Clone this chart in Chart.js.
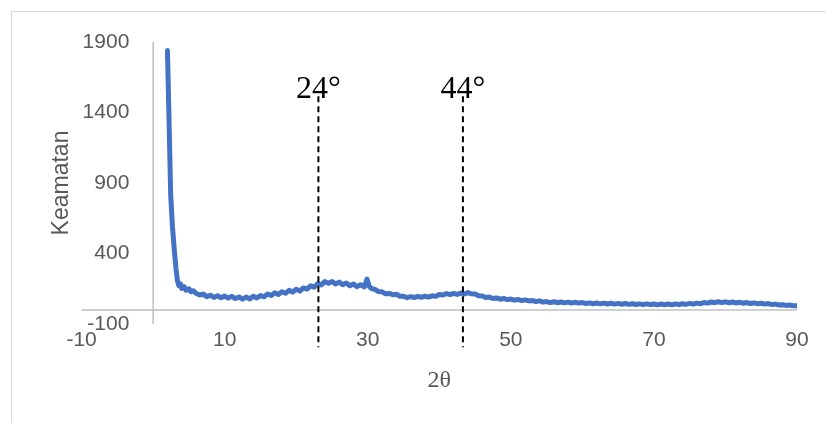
<!DOCTYPE html>
<html>
<head>
<meta charset="utf-8">
<script src="https://cdn.jsdelivr.net/npm/chart.js@4.4.1/dist/chart.umd.min.js"></script>
<style>
    html, body { margin: 0; padding: 0; background: #ffffff; }
    #wrap { position: relative; width: 826px; height: 423px; overflow: hidden; }
    #frame { position: absolute; left: 11px; top: 11px; width: 900px; height: 500px; border: 1.5px solid #d9d9d9; }
    #graphXrd { position: absolute; left: 0; top: 0; }
</style>
</head>
<body>
<div id="wrap">
    <div id="frame"></div>
    <canvas id="graphXrd" width="826" height="423"></canvas>
</div>
<script>
// 2 theta (deg)
const twoTheta = [
    2.0, 2.2, 2.45, 2.7, 3.0, 3.2, 3.4, 3.6, 3.8, 4.0, 4.3, 4.6, 5.0, 5.3, 5.6,
    6.0, 6.5, 7.0, 7.5, 8.0, 8.5, 9.0, 9.5, 10.0, 10.5,
    11.0, 11.5, 12.0, 12.5, 13.0, 13.5, 14.0, 14.5, 15.0, 15.5,
    16.0, 16.5, 17.0, 17.5, 18.0, 18.5, 19.0, 19.5, 20.0, 20.5,
    21.0, 21.5, 22.0, 22.5, 23.0, 23.5, 24.0, 24.5, 25.0, 25.5,
    26.0, 26.5, 27.0, 27.5, 28.0, 28.5, 29.0, 29.5, 29.9, 30.2,
    30.5, 31.0, 31.5, 32.0, 32.5, 33.0, 33.5, 34.0, 34.5, 35.0,
    35.5, 36.0, 36.5, 37.0, 37.5, 38.0, 38.5, 39.0, 39.5, 40.0,
    40.5, 41.0, 41.5, 42.0, 42.5, 43.0, 43.5, 44.0, 44.5, 45.0,
    45.5, 46.0, 46.5, 47.0, 47.5, 48.0, 48.5, 49.0, 49.5, 50.0,
    50.5, 51.0, 51.5, 52.0, 52.5, 53.0, 53.5, 54.0, 54.5, 55.0,
    55.5, 56.0, 56.5, 57.0, 57.5, 58.0, 58.5, 59.0, 59.5, 60.0,
    60.5, 61.0, 61.5, 62.0, 62.5, 63.0, 63.5, 64.0, 64.5, 65.0,
    65.5, 66.0, 66.5, 67.0, 67.5, 68.0, 68.5, 69.0, 69.5, 70.0,
    70.5, 71.0, 71.5, 72.0, 72.5, 73.0, 73.5, 74.0, 74.5, 75.0,
    75.5, 76.0, 76.5, 77.0, 77.5, 78.0, 78.5, 79.0, 79.5, 80.0,
    80.5, 81.0, 81.5, 82.0, 82.5, 83.0, 83.5, 84.0, 84.5, 85.0,
    85.5, 86.0, 86.5, 87.0, 87.5, 88.0, 88.5, 89.0, 89.5, 90.0
];

// intensity (Keamatan)
const intensity = [
    1840, 1400, 820, 590, 400, 290, 205, 172, 185, 152, 165, 140, 150, 128, 136,
    118, 106, 112, 94, 104, 88, 100, 86, 98, 84,
    96, 81, 92, 76, 91, 78, 96, 84, 102, 93,
    113, 102, 121, 109, 129, 118, 139, 126, 146, 133,
    156, 148, 171, 161, 186, 177, 201, 188, 202, 184,
    197, 178, 190, 171, 184, 165, 179, 163, 218, 168,
    152, 146, 130, 128, 114, 117, 108, 111, 97, 97,
    87, 94, 88, 96, 89, 97, 91, 100, 96, 109,
    106, 116, 108, 117, 110, 119, 113, 123, 114, 113,
    100, 99, 88, 91, 81, 85, 76, 81, 73, 77,
    69, 74, 66, 71, 64, 67, 59, 64, 55, 59,
    52, 58, 51, 56, 50, 55, 49, 54, 48, 52,
    45, 50, 44, 49, 43, 48, 42, 47, 41, 46,
    40, 45, 39, 44, 38, 43, 37, 43, 37, 42,
    36, 42, 37, 42, 36, 43, 37, 44, 39, 46,
    41, 48, 44, 52, 48, 56, 51, 58, 52, 57,
    51, 56, 49, 54, 47, 52, 45, 50, 43, 47,
    41, 45, 38, 41, 35, 37, 32, 34, 29, 29
];

// dashed peak markers
const markerPos = [23.1, 43.3];
const markerLabels = ['24°', '44°'];

let graphXrd = null;

const axisCross = {
    id: 'axisCross',
    beforeDatasetsDraw(chart) {
        const { ctx, scales: { x, y } } = chart;
        const x0 = x.getPixelForValue(0);
        const y0 = y.getPixelForValue(0);
        ctx.save();
        ctx.strokeStyle = '#c0c0c0';
        ctx.lineWidth = 1.5;
        ctx.beginPath();
        ctx.moveTo(x.left, y0);
        ctx.lineTo(x.right, y0);
        ctx.moveTo(x0, y.top);
        ctx.lineTo(x0, y.bottom);
        ctx.stroke();
        ctx.restore();
    }
};

const peakMarkers = {
    id: 'peakMarkers',
    afterDatasetsDraw(chart) {
        const { ctx, scales: { x, y } } = chart;
        ctx.save();
        markerPos.forEach((pos, i) => {
            const px = x.getPixelForValue(pos);
            ctx.strokeStyle = '#000000';
            ctx.lineWidth = 2;
            ctx.setLineDash([6, 4]);
            ctx.beginPath();
            ctx.moveTo(px, y.getPixelForValue(1515));
            ctx.lineTo(px, y.getPixelForValue(-265));
            ctx.stroke();
            ctx.setLineDash([]);
            ctx.fillStyle = '#000000';
            ctx.font = '32px "Liberation Serif"';
            ctx.textAlign = 'center';
            ctx.textBaseline = 'alphabetic';
            ctx.fillText(markerLabels[i], px, y.getPixelForValue(1505));
        });
        ctx.restore();
    }
};

function create_Graph() {
    const points = twoTheta.map((t, i) => ({ x: t, y: intensity[i] }));

    if (graphXrd !== null) {
        graphXrd.destroy();
    }

    const context = document.getElementById('graphXrd').getContext('2d');
    graphXrd = new Chart(context, {
        type: 'scatter',
        data: {
            datasets: [{
                label: 'Keamatan',
                data: points,
                showLine: true,
                borderColor: '#4472c4',
                borderWidth: 5,
                borderCapStyle: 'round',
                borderJoinStyle: 'round',
                pointRadius: 0,
                fill: false
            }]
        },
        options: {
            responsive: false,
            animation: false,
            layout: {
                padding: { left: 44, right: 29, top: 42, bottom: 28 }
            },
            plugins: {
                legend: { display: false },
                tooltip: { enabled: false }
            },
            scales: {
                x: {
                    type: 'linear',
                    min: -10,
                    max: 90,
                    grid: { display: false, drawTicks: false },
                    border: { display: false },
                    ticks: {
                        stepSize: 20,
                        padding: 4,
                        color: '#595959',
                        font: { family: 'Liberation Sans', size: 21 },
                        callback: (value) => String(value)
                    },
                    title: {
                        display: true,
                        text: '2θ',
                        color: '#595959',
                        font: { family: 'Liberation Serif', size: 24 },
                        padding: { top: 9, bottom: 0 }
                    }
                },
                y: {
                    min: -100,
                    max: 1900,
                    grid: { display: false, drawTicks: false },
                    border: { display: false },
                    ticks: {
                        stepSize: 500,
                        mirror: true,
                        crossAlign: 'far',
                        padding: 1,
                        color: '#595959',
                        font: { family: 'Liberation Sans', size: 21 },
                        callback: (value) => String(value)
                    },
                    title: {
                        display: true,
                        text: 'Keamatan',
                        color: '#595959',
                        font: { family: 'Liberation Sans', size: 23 },
                        padding: { top: 4, bottom: 4 }
                    }
                }
            }
        },
        plugins: [axisCross, peakMarkers]
    });
}

window.onload = create_Graph;
</script>
</body>
</html>
